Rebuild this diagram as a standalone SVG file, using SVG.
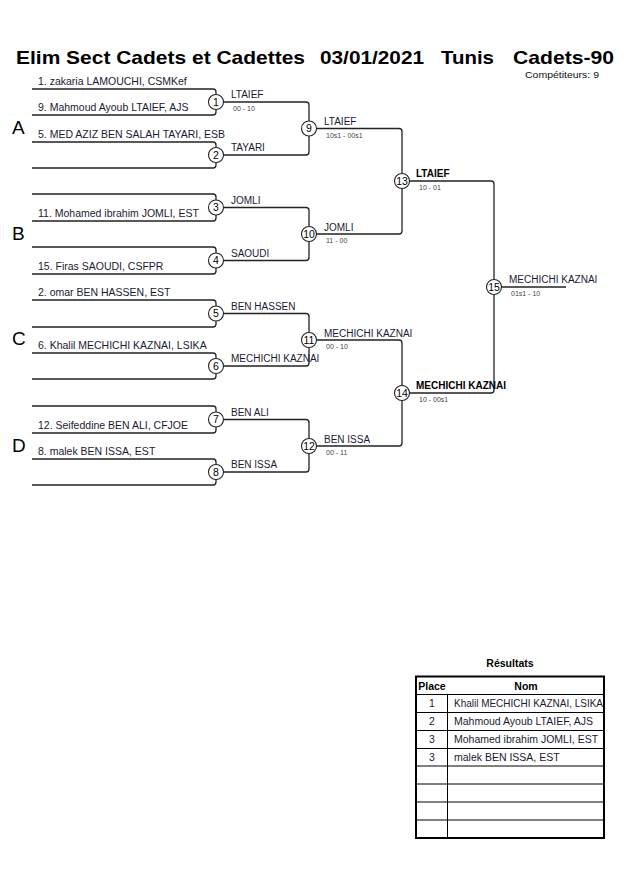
<svg xmlns="http://www.w3.org/2000/svg" width="630" height="891" viewBox="0 0 630 891">
<style>
text{font-family:"Liberation Sans",Arial,sans-serif;}
.t{font-size:19px;font-weight:bold;fill:#000;}
.pl{font-size:10.5px;fill:#1a1a33;}
.w{font-size:10px;fill:#1a1a33;}
.wb{font-size:10px;font-weight:bold;fill:#000;}
.s{font-size:7px;fill:#444;}
.n{font-size:10.5px;fill:#000;text-anchor:middle;}
.sec{font-size:19px;fill:#000;}
.c{fill:#fff;stroke:#222;stroke-width:1.1;}
.ln{fill:none;stroke:#222;stroke-width:1.3;}
.tb{fill:none;stroke:#000;stroke-width:1;}
.tbo{fill:none;stroke:#000;stroke-width:2;}
.h{font-size:10.5px;font-weight:bold;fill:#000;}
.r{font-size:10.5px;fill:#1a1a33;}
</style>
<defs>
<clipPath id="tc"><rect x="416" y="676" width="188" height="162"/></clipPath>
</defs>
<g id="title">
<text class="t" x="16" y="64" textLength="289" lengthAdjust="spacingAndGlyphs">Elim Sect Cadets et Cadettes</text>
<text class="t" x="320" y="64" textLength="104" lengthAdjust="spacingAndGlyphs">03/01/2021</text>
<text class="t" x="441" y="64" textLength="53" lengthAdjust="spacingAndGlyphs">Tunis</text>
<text class="t" x="513" y="64" textLength="101" lengthAdjust="spacingAndGlyphs">Cadets-90</text>
<text x="525" y="78" style="font-size:9px;fill:#111" textLength="74" lengthAdjust="spacingAndGlyphs">Compétiteurs: 9</text>
</g>
<g id="sections">
<text class="sec" x="12" y="134">A</text>
<text class="sec" x="12" y="240">B</text>
<text class="sec" x="12" y="345">C</text>
<text class="sec" x="12" y="452">D</text>
</g>
<g id="players">
<text class="pl" x="38" y="85">1. zakaria LAMOUCHI, CSMKef</text>
<text class="pl" x="38" y="111">9. Mahmoud Ayoub LTAIEF, AJS</text>
<text class="pl" x="38" y="138">5. MED AZIZ BEN SALAH TAYARI, ESB</text>
<text class="pl" x="38" y="217">11. Mohamed ibrahim JOMLI, EST</text>
<text class="pl" x="38" y="270">15. Firas SAOUDI, CSFPR</text>
<text class="pl" x="38" y="296">2. omar BEN HASSEN, EST</text>
<text class="pl" x="38" y="349">6. Khalil MECHICHI KAZNAI, LSIKA</text>
<text class="pl" x="38" y="429">12. Seifeddine BEN ALI, CFJOE</text>
<text class="pl" x="38" y="455">8. malek BEN ISSA, EST</text>
</g>
<g id="connectors" class="ln">
<path d="M32 89 H213 a3 3 0 0 1 3 3 V94.5 M216 109.5 V112 a3 3 0 0 1 -3 3 H32"/>
<path d="M32 142 H213 a3 3 0 0 1 3 3 V147.5 M216 162.5 V165 a3 3 0 0 1 -3 3 H32"/>
<path d="M32 194 H213 a3 3 0 0 1 3 3 V200 M216 215 V218 a3 3 0 0 1 -3 3 H32"/>
<path d="M32 247 H213 a3 3 0 0 1 3 3 V253 M216 268 V271 a3 3 0 0 1 -3 3 H32"/>
<path d="M32 300 H213 a3 3 0 0 1 3 3 V306 M216 321 V324 a3 3 0 0 1 -3 3 H32"/>
<path d="M32 353 H213 a3 3 0 0 1 3 3 V358.5 M216 373.5 V376 a3 3 0 0 1 -3 3 H32"/>
<path d="M32 406 H213 a3 3 0 0 1 3 3 V412 M216 427 V430 a3 3 0 0 1 -3 3 H32"/>
<path d="M32 459 H213 a3 3 0 0 1 3 3 V464.5 M216 479.5 V482 a3 3 0 0 1 -3 3 H32"/>
<path d="M223.5 102 H306 a3 3 0 0 1 3 3 V121"/>
<path d="M223.5 155 H306 a3 3 0 0 0 3 -3 V136"/>
<path d="M223.5 207.5 H306 a3 3 0 0 1 3 3 V226.5"/>
<path d="M223.5 260.5 H306 a3 3 0 0 0 3 -3 V241.5"/>
<path d="M223.5 313.5 H306 a3 3 0 0 1 3 3 V332.5"/>
<path d="M223.5 366 H306 a3 3 0 0 0 3 -3 V347.5"/>
<path d="M223.5 419.5 H306 a3 3 0 0 1 3 3 V438.5"/>
<path d="M223.5 472 H306 a3 3 0 0 0 3 -3 V453.5"/>
<path d="M316.5 128.5 H399 a3 3 0 0 1 3 3 V173.5"/>
<path d="M316.5 234 H399 a3 3 0 0 0 3 -3 V188.5"/>
<path d="M316.5 340 H399 a3 3 0 0 1 3 3 V385.5"/>
<path d="M316.5 446 H399 a3 3 0 0 0 3 -3 V400.5"/>
<path d="M409.5 181 H491 a3 3 0 0 1 3 3 V279.5"/>
<path d="M409.5 393 H491 a3 3 0 0 0 3 -3 V294.5"/>
<path d="M501.5 287 H566"/>
</g>
<g id="m1"><circle class="c" cx="216" cy="102" r="7.5"/><text class="n" x="216" y="105.5">1</text><text class="w" x="231" y="98">LTAIEF</text><text class="s" x="233" y="111">00 - 10</text></g>
<g id="m2"><circle class="c" cx="216" cy="155" r="7.5"/><text class="n" x="216" y="158.5">2</text><text class="w" x="231" y="151">TAYARI</text></g>
<g id="m3"><circle class="c" cx="216" cy="207.5" r="7.5"/><text class="n" x="216" y="211">3</text><text class="w" x="231" y="203.5">JOMLI</text></g>
<g id="m4"><circle class="c" cx="216" cy="260.5" r="7.5"/><text class="n" x="216" y="264">4</text><text class="w" x="231" y="256.5">SAOUDI</text></g>
<g id="m5"><circle class="c" cx="216" cy="313.5" r="7.5"/><text class="n" x="216" y="317">5</text><text class="w" x="231" y="309.5">BEN HASSEN</text></g>
<g id="m6"><circle class="c" cx="216" cy="366" r="7.5"/><text class="n" x="216" y="369.5">6</text><text class="w" x="231" y="362">MECHICHI KAZNAI</text></g>
<g id="m7"><circle class="c" cx="216" cy="419.5" r="7.5"/><text class="n" x="216" y="423">7</text><text class="w" x="231" y="415.5">BEN ALI</text></g>
<g id="m8"><circle class="c" cx="216" cy="472" r="7.5"/><text class="n" x="216" y="475.5">8</text><text class="w" x="231" y="468">BEN ISSA</text></g>
<g id="m9"><circle class="c" cx="309" cy="128.5" r="7.5"/><text class="n" x="309" y="132">9</text><text class="w" x="324" y="125">LTAIEF</text><text class="s" x="326" y="137.5">10s1 - 00s1</text></g>
<g id="m10"><circle class="c" cx="309" cy="234" r="7.5"/><text class="n" x="309" y="237.5">10</text><text class="w" x="324" y="230.5">JOMLI</text><text class="s" x="326" y="243">11 - 00</text></g>
<g id="m11"><circle class="c" cx="309" cy="340" r="7.5"/><text class="n" x="309" y="343.5">11</text><text class="w" x="324" y="336.5">MECHICHI KAZNAI</text><text class="s" x="326" y="349">00 - 10</text></g>
<g id="m12"><circle class="c" cx="309" cy="446" r="7.5"/><text class="n" x="309" y="449.5">12</text><text class="w" x="324" y="442.5">BEN ISSA</text><text class="s" x="326" y="455">00 - 11</text></g>
<g id="m13"><circle class="c" cx="402" cy="181" r="7.5"/><text class="n" x="402" y="184.5">13</text><text class="wb" x="416" y="176.5">LTAIEF</text><text class="s" x="419" y="190">10 - 01</text></g>
<g id="m14"><circle class="c" cx="402" cy="393" r="7.5"/><text class="n" x="402" y="396.5">14</text><text class="wb" x="416" y="388.5">MECHICHI KAZNAI</text><text class="s" x="419" y="402">10 - 00s1</text></g>
<g id="m15"><circle class="c" cx="494" cy="287" r="7.5"/><text class="n" x="494" y="290.5">15</text><text class="w" x="509" y="283">MECHICHI KAZNAI</text><text class="s" x="511" y="296">01s1 - 10</text></g>
<g id="results">
<text class="h" x="510" y="667" text-anchor="middle">Résultats</text>
<g class="tb">
<path d="M416 694.5 H604 M416 712.5 H604 M416 730.5 H604 M416 748.5 H604 M416 766 H604 M416 784 H604 M416 802 H604 M416 820 H604 M447.5 694.5 V838"/>
</g>
<text class="h" x="432" y="690" text-anchor="middle">Place</text>
<text class="h" x="526" y="690" text-anchor="middle">Nom</text>
<g clip-path="url(#tc)">
<text class="r" x="432" y="707" text-anchor="middle">1</text>
<text class="r" x="454" y="707" textLength="149" lengthAdjust="spacingAndGlyphs">Khalil MECHICHI KAZNAI, LSIKA</text>
<text class="r" x="432" y="725" text-anchor="middle">2</text>
<text class="r" x="454" y="725">Mahmoud Ayoub LTAIEF, AJS</text>
<text class="r" x="432" y="743" text-anchor="middle">3</text>
<text class="r" x="454" y="743">Mohamed ibrahim JOMLI, EST</text>
<text class="r" x="432" y="761" text-anchor="middle">3</text>
<text class="r" x="454" y="761">malek BEN ISSA, EST</text>
</g>
<rect class="tbo" x="416" y="676.5" width="188" height="161.5"/>
</g>
</svg>
